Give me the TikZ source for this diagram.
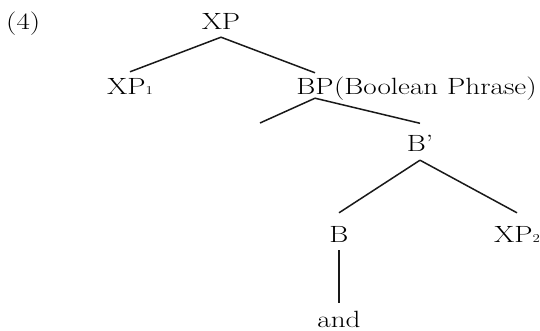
\documentclass[tikz,border=0pt]{standalone}
\usepackage{fontspec}
\setmainfont{Latin Modern Roman}[FakeStretch=1.24]
\newcommand\lsub[1]{{\fontsize{12}{12}\selectfont #1}}
\begin{document}
\begin{tikzpicture}[x=1pt,y=-1pt,
  lbl/.style={inner sep=0pt, anchor=base, font=\fontsize{23.5}{28}\selectfont,
              text height=16pt, text depth=0pt},
  branch/.style={line width=1.5pt, black!90}]
\useasboundingbox (0,0) rectangle (540,331);

% labels of the tree
\node[lbl, anchor=base west] (num) at (6,30) {(4)};
\node[lbl] (xp)   at (221,30)    {XP};
\node[lbl] (xp1)  at (130,95)    {XP\lsub{1}};
\node[lbl] (bp)   at (315,95)    {BP};
\node[lbl, anchor=base west] (bpgloss) at (bp.base east) {(Boolean Phrase)};
\coordinate (spec) at (260,123);
\node[lbl] (bbar) at (420,151.5) {B’};
\node[lbl] (b)    at (339,242)   {B};
\node[lbl] (xp2)  at (517,242)   {XP\lsub{2}};
\node[lbl] (and)  at (339,327)   {and};

% branches
\draw[branch] ([yshift=-7pt]xp.south) -- ([yshift=7pt]xp1.north);
\draw[branch] ([yshift=-7pt]xp.south) -- ([yshift=6pt]bp.north);
\draw[branch] ([yshift=-3pt]bp.south) -- (spec);
\draw[branch] ([yshift=-3pt]bp.south) -- ([yshift=12pt]bbar.north);
\draw[branch] ([yshift=-8.5pt]bbar.south) -- ([yshift=13pt]b.north);
\draw[branch] ([yshift=-8.5pt]bbar.south) -- ([yshift=13pt]xp2.north);
\draw[branch] ([yshift=-8pt]b.south) -- ([yshift=8pt]and.north);
\end{tikzpicture}
\end{document}
